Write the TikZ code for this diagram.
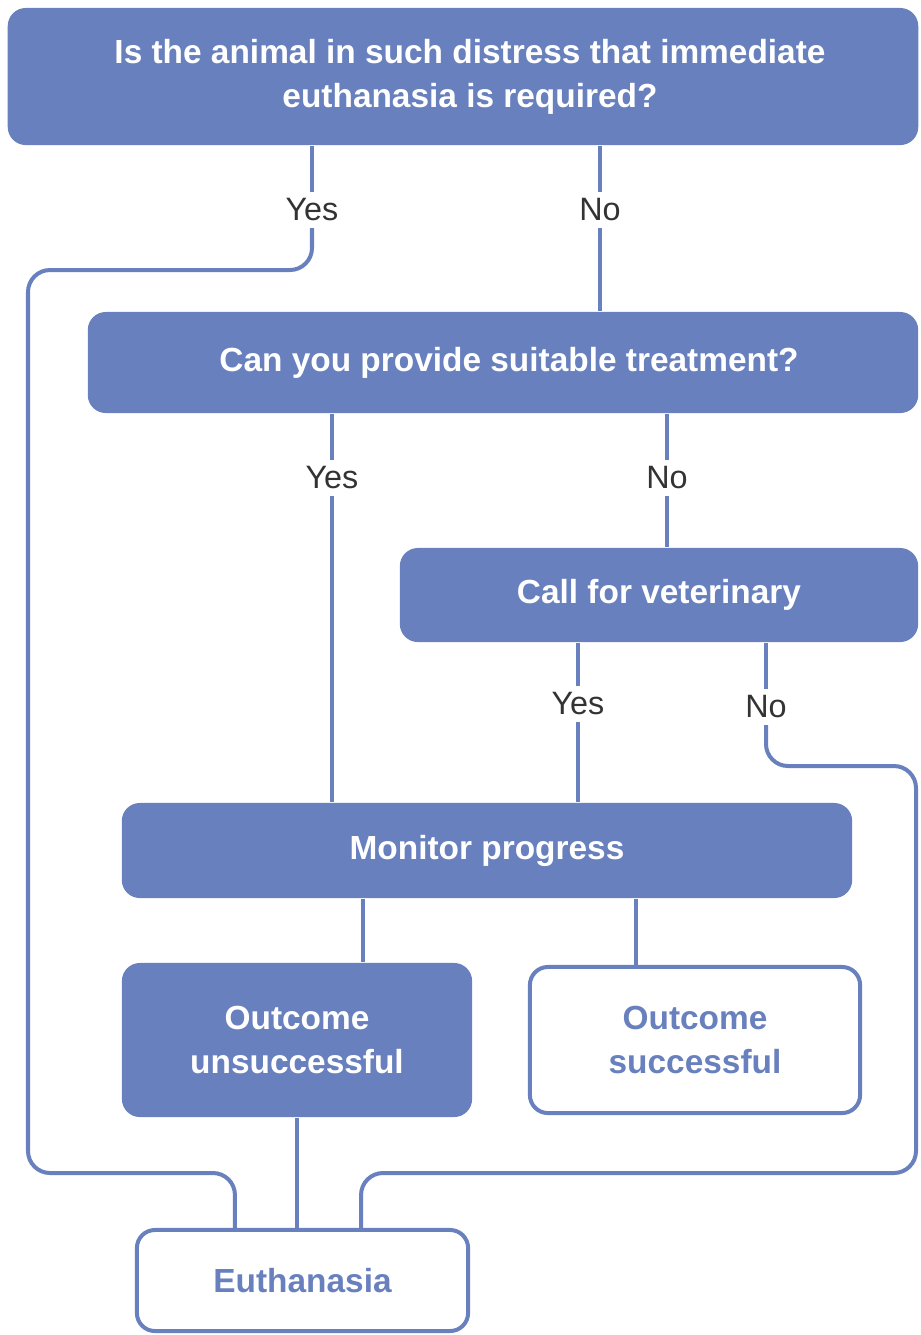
\documentclass[tikz,border=0pt]{standalone}
\usepackage{fontspec}
\setmainfont{Liberation Sans}
\usepackage{tikz}
\usepackage{xcolor}
\usetikzlibrary{positioning, calc}
\definecolor{cBox}{RGB}{104,128,189}
\definecolor{cLabel}{RGB}{51,51,51}
\tikzset{
	qblk/.style ={rectangle, rounded corners=0.18cm, fill=cBox, text=white, align=center, inner sep=0pt,
	              font=\fontsize{9.5}{12.5}\selectfont\bfseries},
	oblk/.style ={rectangle, rounded corners=0.18cm, draw=cBox, line width=0.04cm, fill=white, text=cBox,
	              align=center, inner sep=0pt, font=\fontsize{9.5}{12.5}\selectfont\bfseries},
	ans/.style  ={text=cLabel, inner sep=0.06cm, font=\fontsize{9.2}{10}\selectfont},
	link/.style ={draw=cBox, line width=0.04cm},
}

\begin{document}
\begin{tikzpicture}[x=0.01cm, y=-0.01cm]
	\useasboundingbox (0,0) rectangle (920,1335);
	% question boxes
	\node[qblk, minimum width=9.10cm, minimum height=1.37cm] (q1) at (463,76.5)
		{\hspace{0.14cm}Is the animal in such distress that immediate\\\hspace{0.14cm}euthanasia is required?};
	\node[qblk, minimum width=8.30cm, minimum height=1.01cm] (q2) at (503,362.5)
		{\hspace{0.12cm}Can you provide suitable treatment?};
	\node[qblk, minimum width=5.18cm, minimum height=0.94cm] (vet) at (659,595)
		{Call for veterinary};
	\node[qblk, minimum width=7.30cm, minimum height=0.95cm] (mon) at (487,850.5)
		{Monitor progress};
	\node[qblk, minimum width=3.50cm, minimum height=1.54cm] (bad) at (297,1040)
		{Outcome\\unsuccessful};
	\node[oblk, minimum width=3.30cm, minimum height=1.46cm] (good) at (695,1040)
		{Outcome\\successful};
	\node[oblk, minimum width=3.31cm, minimum height=1.01cm] (euth) at (302.5,1280.5)
		{Euthanasia};
	% answers
	\node[ans] (y1) at (312,210) {Yes};
	\node[ans] (n1) at (600,210) {No};
	\node[ans] (y2) at (332,478) {Yes};
	\node[ans] (n2) at (667,478) {No};
	\node[ans] (y3) at (578,704) {Yes};
	\node[ans] (n3) at (766,707) {No};
	% rails round the outside
	\coordinate (wt) at (28,270);
	\coordinate (wb) at (28,1173);
	\coordinate (et) at (916,766);
	\coordinate (eb) at (916,1173);
	\foreach \a/\l/\b in {q1/n1/q2, q2/y2/mon, q2/n2/vet, vet/y3/mon} {
		\draw[link] (\a.south -| \l) -- (\l.north);
		\draw[link] (\l.south) -- (\b.north -| \l);
	}
	\draw[link] (q1.south -| y1) -- (y1.north);
	\draw[link] (vet.south -| n3) -- (n3.north);
	\draw[link, rounded corners=0.22cm] (y1.south) |- (wt) -- (wb) -| ([xshift=-0.675cm]euth.north);
	\draw[link, rounded corners=0.22cm] (n3.south) |- (et) -- (eb) -| ([xshift=0.585cm]euth.north);
	\draw[link] ([xshift=0.66cm]bad.north) -- ([xshift=0.66cm]bad.north |- mon.south);
	\draw[link] ([xshift=-0.59cm]good.north) -- ([xshift=-0.59cm]good.north |- mon.south);
	\draw[link] (bad.south) -- (euth.north -| bad.south);
\end{tikzpicture}
\end{document}
